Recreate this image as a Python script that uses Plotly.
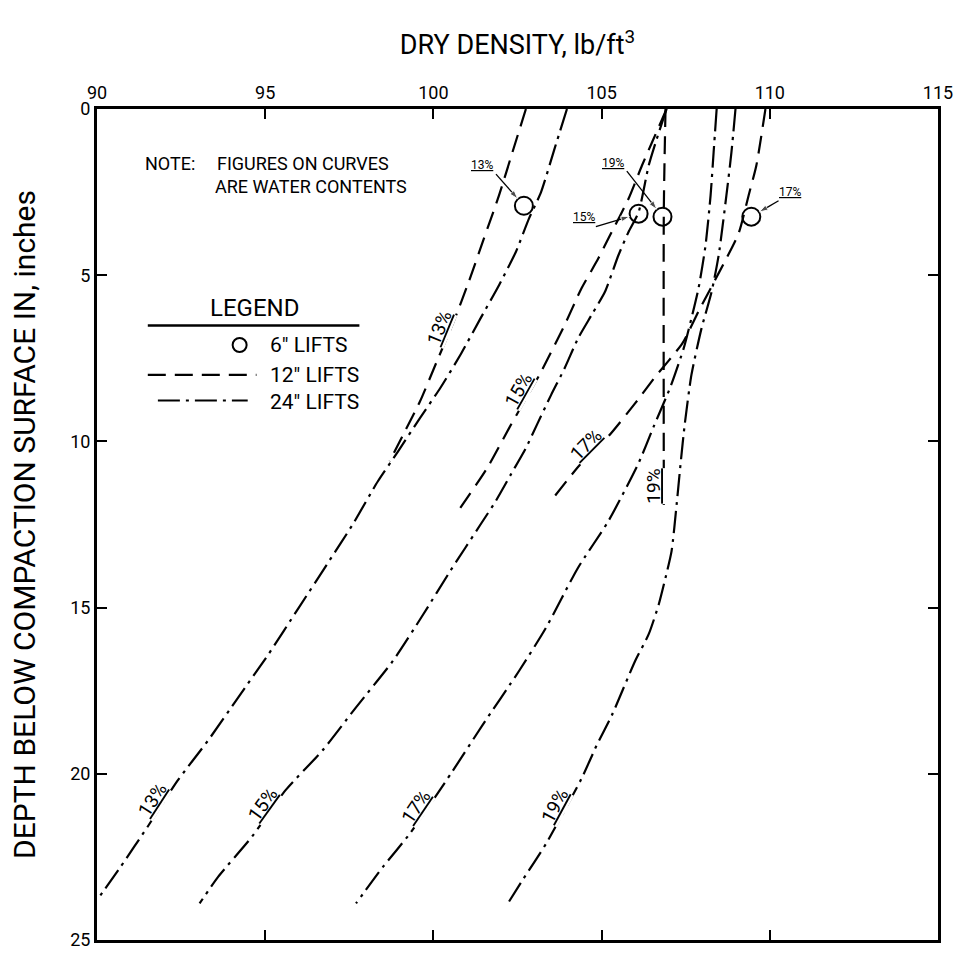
import numpy as np
import plotly.graph_objects as go

# ---------------- data (dry density lb/ft3 , depth in) ----------------
d13_12_x = [102.75, 102.35, 101.95, 101.5, 101.05, 100.6, 100.1, 99.6, 99.1, 98.7]
d13_12_y = [0, 1.3, 2.6, 3.9, 5.2, 6.4, 7.6, 8.8, 9.8, 10.6]

d13_24_x = [103.97, 103.6, 103.2, 102.84, 102.45, 101.95, 101.4, 100.8, 100.2, 99.6, 98.95, 98.35,
            97.6, 96.9, 96.0, 95.1, 94.2, 93.3, 92.4, 91.5, 90.7, 90.0]
d13_24_y = [0, 1.2, 2.5, 3.3, 4.3, 5.3, 6.3, 7.4, 8.4, 9.3, 10.3, 11.2,
            12.5, 13.6, 15.0, 16.4, 17.7, 19.0, 20.2, 21.6, 22.8, 23.8]

d15_12_x = [106.93, 106.5, 106.2, 105.8, 105.25, 104.9, 104.4, 103.9, 103.15, 102.7, 102.25, 101.6, 100.8]
d15_12_y = [0, 1.0, 1.7, 2.7, 3.8, 4.5, 5.4, 6.5, 8.0, 8.8, 9.6, 10.8, 12.0]

d15_24_x = [106.93, 106.64, 106.4, 106.1, 105.8, 105.5, 105.1, 104.7, 104.3, 103.9, 103.5, 103.1, 102.75,
            102.3, 101.85, 101.4, 100.95, 100.5, 99.7, 98.8, 97.7, 96.7, 95.6, 94.6, 93.6, 93.05]
d15_24_y = [0, 0.9, 1.7, 3.1, 3.7, 4.4, 5.5, 6.2, 6.9, 7.8, 8.6, 9.45, 10.2,
            11.0, 11.8, 12.5, 13.2, 13.9, 15.2, 16.6, 18.0, 19.3, 20.5, 21.9, 23.1, 23.9]

d17_12_x = [109.87, 109.6, 109.37, 109.07, 108.5, 107.9, 107.4, 106.6, 106.0, 105.2, 104.4, 103.45]
d17_12_y = [0, 1.7, 2.6, 3.75, 4.9, 6.05, 7.05, 8.05, 8.85, 9.85, 10.65, 11.85]

d17_24_x = [108.42, 108.33, 108.24, 108.09, 107.88, 107.67, 107.44, 107.05, 106.55, 106.1, 105.2, 104.3,
            103.35, 102.55, 101.45, 100.55, 99.3, 98.5, 97.7]
d17_24_y = [0, 1.3, 2.6, 4.1, 5.4, 6.3, 7.2, 8.35, 9.55, 10.65, 12.4, 13.8,
            15.6, 16.9, 18.55, 19.95, 21.8, 22.8, 23.9]

d19_12_x = [106.9, 106.85, 106.85]
d19_12_y = [0, 3.0, 12.0]

d19_24_x = [108.98, 108.86, 108.71, 108.48, 108.27, 107.97, 107.67, 107.47, 107.35, 107.23, 107.08, 106.9,
            106.7, 106.4, 106.0, 105.3, 104.85, 104.4, 103.35, 102.65, 102.15]
d19_24_y = [0, 1.3, 2.6, 4.4, 5.5, 6.6, 8.0, 9.5, 10.65, 11.9, 13.3, 14.1,
            14.9, 15.8, 16.6, 18.25, 19.15, 20.15, 22.1, 23.2, 24.0]

# 6" lifts (single points)
lift6_labels = ["13%", "15%", "19%", "17%"]
lift6_x = [102.69, 106.10, 106.81, 109.45]
lift6_y = [2.91, 3.15, 3.24, 3.24]

# depths at which the water-content labels sit on the curves
lab12_text = ["13%", "15%", "17%", "19%"]
lab12_depth = [6.7, 8.6, 10.3, 11.35]
lab24_text = ["13%", "15%", "17%", "19%"]
lab24_depth = [20.95, 21.1, 21.15, 21.1]

x_ticks = [90, 95, 100, 105, 110, 115]
y_ticks = [0, 5, 10, 15, 20, 25]

# ---------------- styling ----------------
FONT = "Roboto, Liberation Sans, sans-serif"
DASH12 = "18px,9px"
DASH24 = "22px,6px,3px,6px"
LW = 2.2
PXX = 843 / 25.0   # px per unit along x (plot width / range)
PXY = 841 / 25.0   # px per unit along y

fig = go.Figure()

def curve(x, y, dash):
    fig.add_trace(go.Scatter(x=x, y=y, mode="lines", showlegend=False, hoverinfo="skip",
                             line=dict(color="black", width=LW, dash=dash, shape="spline", smoothing=0.6)))

c12 = [(d13_12_x, d13_12_y), (d15_12_x, d15_12_y), (d17_12_x, d17_12_y), (d19_12_x, d19_12_y)]
c24 = [(d13_24_x, d13_24_y), (d15_24_x, d15_24_y), (d17_24_x, d17_24_y), (d19_24_x, d19_24_y)]
for (x12, y12), (x24, y24) in zip(c12, c24):
    curve(x12, y12, DASH12)
    curve(x24, y24, DASH24)

fig.add_trace(go.Scatter(x=lift6_x, y=lift6_y, mode="markers", showlegend=False, hoverinfo="skip",
                         marker=dict(symbol="circle-open", size=18, color="black", line=dict(width=2))))

# ---------------- legend (drawn) ----------------
fig.add_trace(go.Scatter(x=[94.24], y=[7.1], mode="markers", showlegend=False, hoverinfo="skip",
                         marker=dict(symbol="circle-open", size=14, color="black", line=dict(width=2))))
fig.add_trace(go.Scatter(x=[91.51, 94.74], y=[8.0, 8.0], mode="lines", showlegend=False, hoverinfo="skip",
                         line=dict(color="black", width=LW, dash=DASH12)))
fig.add_trace(go.Scatter(x=[91.81, 94.48], y=[8.77, 8.77], mode="lines", showlegend=False, hoverinfo="skip",
                         line=dict(color="black", width=LW, dash=DASH24)))
fig.add_shape(type="line", x0=91.51, x1=97.8, y0=6.51, y1=6.51, xref="x", yref="y",
              line=dict(color="black", width=2.5))

ann = []
def txt(x, y, s, size, angle=0, xanchor="center", xref="x", yref="y", bg=None):
    a = dict(x=x, y=y, xref=xref, yref=yref, text=s, showarrow=False, textangle=angle,
             xanchor=xanchor, yanchor="middle", font=dict(family=FONT, size=size, color="black"))
    if bg:
        a.update(bgcolor=bg, borderpad=0)
    ann.append(a)

txt(94.69, 5.98, "LEGEND", 24)
txt(95.07, 7.1, "6\" LIFTS", 21, xanchor="left")
txt(95.07, 8.0, "12\" LIFTS", 21, xanchor="left")
txt(95.07, 8.8, "24\" LIFTS", 21, xanchor="left")

# note
txt(91.36, 1.64, "NOTE:", 18, xanchor="left")
txt(93.5, 1.64, "FIGURES ON CURVES", 18, xanchor="left")
txt(93.44, 2.32, "ARE WATER CONTENTS", 18, xanchor="left")

# curve labels: underline lies on the curve, text up-left of it, curve hidden under the text
OFF = 10.5  # px from curve to text centre
def curve_label(xs, ys, depth, s):
    xs = np.asarray(xs, float); ys = np.asarray(ys, float)
    x0 = np.interp(depth, ys, xs)
    x1 = np.interp(depth - 0.4, ys, xs); x2 = np.interp(depth + 0.4, ys, xs)
    dxs = (x1 - x2) * PXX
    dys = 0.8 * PXY
    th = np.degrees(np.arctan2(dys, dxs))
    t = np.radians(th)
    cx = x0 + OFF * (-np.sin(t)) / PXX
    cy = depth + OFF * (-np.cos(t)) / PXY
    txt(cx, cy, "<u>" + s + "</u>", 19, -th, bg="white")

for (xs, ys), d, s in zip(c12, lab12_depth, lab12_text):
    curve_label(xs, ys, d, s)
for (xs, ys), d, s in zip(c24, lab24_depth, lab24_text):
    curve_label(xs, ys, d, s)

# 6" lift callouts: underlined label + leader with arrowhead ending at the circle edge
call_text_x = [101.45, 104.47, 105.33, 110.61]
call_text_y = [1.69, 3.24, 1.61, 2.50]
call_tail_x = [101.86, 104.83, 105.75, 110.26]
call_tail_y = [1.96, 3.54, 1.87, 2.76]
R = 0.28
for lab, tx, ty, ax_, ay_, px, py in zip(lift6_labels, call_text_x, call_text_y, call_tail_x, call_tail_y,
                                        lift6_x, lift6_y):
    txt(tx, ty, "<u>" + lab + "</u>", 12)
    v = np.array([ax_ - px, ay_ - py])
    hx, hy = np.array([px, py]) + v / np.linalg.norm(v) * R
    fig.add_trace(go.Scatter(x=[ax_, hx], y=[ay_, hy], mode="lines+markers", showlegend=False,
                             hoverinfo="skip", line=dict(color="black", width=1.3),
                             marker=dict(symbol="arrow", size=[0, 9], angleref="previous", color="black")))

fig.update_layout(
    width=964, height=961,
    margin=dict(l=97, r=24, t=109, b=11),
    paper_bgcolor="white", plot_bgcolor="white",
    showlegend=False,
    annotations=ann,
    xaxis=dict(side="top", range=[90, 115], tickvals=x_ticks, ticks="inside", ticklen=10, tickwidth=2,
               tickcolor="black", showline=True, linewidth=3, linecolor="black", mirror="ticks",
               showgrid=False, zeroline=False, tickfont=dict(family=FONT, size=18, color="black"),
               title=dict(text="DRY DENSITY, lb/ft<sup>3</sup>", standoff=20,
                          font=dict(family=FONT, size=27, color="black"))),
    yaxis=dict(range=[25, 0], tickvals=y_ticks, ticks="inside", ticklen=10, tickwidth=2,
               tickcolor="black", showline=True, linewidth=3, linecolor="black", mirror="ticks",
               showgrid=False, zeroline=False, tickfont=dict(family=FONT, size=18, color="black"),
               title=dict(text="DEPTH BELOW COMPACTION SURFACE IN, inches", standoff=26,
                          font=dict(family=FONT, size=30, color="black"))),
)

fig.write_html("out.html")
